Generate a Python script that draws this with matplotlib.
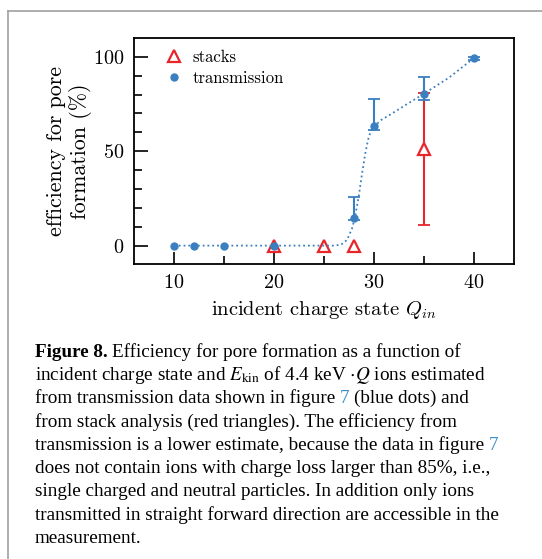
import matplotlib
matplotlib.use('Agg')
import matplotlib.pyplot as plt
from matplotlib.lines import Line2D
import numpy as np

W, H = 542, 559

# transmission data (blue dots)
trans_q = [10, 12, 15, 20, 28, 30, 35, 40]
trans_eff = [0, 0, 0, 0, 14.7, 63.5, 80.3, 99.3]
trans_err_lo = [0, 0, 0, 0, 1.0, 2.5, 3.0, 0.8]
trans_err_hi = [0, 0, 0, 0, 11.0, 14.0, 9.0, 0.8]

# stack analysis (red triangles)
stack_q = [20, 25, 28, 35]
stack_eff = [0, 0, 0, 51]
stack_err_lo = [0, 0, 0, 40.3]
stack_err_hi = [0, 0, 0, 30.0]

# dotted guide line
curve_q = [10, 26, 26.7, 27.3, 27.8, 28.1, 28.5, 28.8, 29.1, 29.4, 29.7, 30.1,
           30.7, 31.5, 33, 35, 37.5, 40]
curve_eff = [0, 0, 0.5, 3, 9, 15, 27, 38, 48, 56, 61, 63.5,
             66.5, 69, 74, 80.5, 89, 99.4]

BLUE = '#3b7fc0'
RED = '#e8252b'

plt.rcParams['font.family'] = 'cmr10'
plt.rcParams['mathtext.fontset'] = 'cm'
plt.rcParams['axes.formatter.use_mathtext'] = True

fig = plt.figure(figsize=(W / 100, H / 100), dpi=100)
ax = fig.add_axes([134 / W, 1 - 264.5 / H, 380 / W, 226.5 / H])

# red error bar first, then triangles with white face
i_err = [k for k in range(len(stack_q)) if stack_err_hi[k] > 0]
ax.errorbar([stack_q[k] for k in i_err], [stack_eff[k] for k in i_err],
            yerr=[[stack_err_lo[k] for k in i_err], [stack_err_hi[k] for k in i_err]],
            fmt='none', ecolor=RED, elinewidth=1.5, capsize=4, capthick=1.3, zorder=2)
ax.plot(stack_q, stack_eff, linestyle='none', marker='^', markersize=9,
        markerfacecolor='white', markeredgecolor=RED, markeredgewidth=1.6, zorder=3)

ax.plot(curve_q, curve_eff, linestyle=':', color=BLUE, linewidth=1.3, zorder=4)
j_err = [k for k in range(len(trans_q)) if trans_err_hi[k] > 0]
ax.errorbar([trans_q[k] for k in j_err], [trans_eff[k] for k in j_err],
            yerr=[[trans_err_lo[k] for k in j_err], [trans_err_hi[k] for k in j_err]],
            fmt='none', ecolor=BLUE, elinewidth=1.5, capsize=4, capthick=1.3, zorder=5)
ax.plot(trans_q, trans_eff, linestyle='none', marker='o', markersize=5,
        color=BLUE, zorder=6)

ax.set_xlim(6, 44)
ax.set_ylim(-10, 110)
ax.set_xticks([10, 20, 30, 40])
ax.set_xticks([15, 25, 35], minor=True)
ax.set_yticks([0, 50, 100])
ax.set_yticks(np.arange(10, 100, 10), minor=True)
ax.tick_params(which='both', direction='in', top=False, right=False,
               labelsize=14.5, width=1.2)
ax.tick_params(which='major', length=9, pad=7)
ax.tick_params(axis='y', which='major', length=10)
ax.tick_params(which='minor', length=6)
for s in ax.spines.values():
    s.set_linewidth(1.3)

ax.set_xlabel('incident charge state $Q_{in}$', fontsize=14.8, labelpad=5)
ax.set_ylabel('efficiency for pore\nformation (%)', fontsize=15.8, labelpad=1,
              linespacing=1.15)

handles = [Line2D([], [], linestyle='none', marker='^', markersize=9,
                  markerfacecolor='white', markeredgecolor=RED, markeredgewidth=1.6),
           Line2D([], [], linestyle='none', marker='o', markersize=5, color=BLUE)]
ax.legend(handles, ['stacks', 'transmission'], loc='upper left', frameon=False,
          fontsize=12, handlelength=1.0, handletextpad=0.6, borderaxespad=0.3,
          labelspacing=0.35, bbox_to_anchor=(0.053, 1.0))

# grey frame around figure
fig.add_artist(Line2D([8 / W, 8 / W], [0, 1 - 11 / H], transform=fig.transFigure,
                      color='#a0a0a0', linewidth=1.2))
fig.add_artist(Line2D([8 / W, 1], [1 - 11 / H, 1 - 11 / H], transform=fig.transFigure,
                      color='#a0a0a0', linewidth=1.2))

# caption
CAP_FONT = 'Liberation Serif'
CAP_SIZE = 13.8
LINK = '#3a8fc9'
caption = [
    [('Figure 8.', 'k', 'bold'), (' ', 'k', 'normal'),
     ('Efficiency for pore formation as a function of', 'k', 'normal')],
    [('incident charge state and $E_{\\mathrm{kin}}$ of 4.4 keV $\\cdot Q$ ions estimated', 'k', 'normal')],
    [('from transmission data shown in figure', 'k', 'normal'), (' ', 'k', 'normal'),
     ('7', LINK, 'normal'), (' ', 'k', 'normal'), ('(blue dots) and', 'k', 'normal')],
    [('from stack analysis (red triangles). The efficiency from', 'k', 'normal')],
    [('transmission is a lower estimate, because the data in figure', 'k', 'normal'),
     (' ', 'k', 'normal'), ('7', LINK, 'normal')],
    [('does not contain ions with charge loss larger than 85%, i.e.,', 'k', 'normal')],
    [('single charged and neutral particles. In addition only ions', 'k', 'normal')],
    [('transmitted in straight forward direction are accessible in the', 'k', 'normal')],
    [('measurement.', 'k', 'normal')],
]

renderer = fig.canvas.get_renderer()


def text_width(s, weight):
    t = fig.text(0, 0, s, family=CAP_FONT, size=CAP_SIZE, weight=weight,
                 math_fontfamily='stix')
    w = t.get_window_extent(renderer).width
    t.remove()
    return w


space_w = text_width('a a', 'normal') - text_width('aa', 'normal')

y0, dy, x0 = 356.7, 23.3, 35
for i, line in enumerate(caption):
    x = x0
    for s, col, weight in line:
        if s == ' ':
            x += space_w
            continue
        t = fig.text(x / W, 1 - (y0 + i * dy) / H, s, family=CAP_FONT, size=CAP_SIZE,
                     weight=weight, color=col, va='baseline', ha='left',
                     math_fontfamily='stix')
        x += t.get_window_extent(renderer).width

fig.savefig('out.png', dpi=100)
